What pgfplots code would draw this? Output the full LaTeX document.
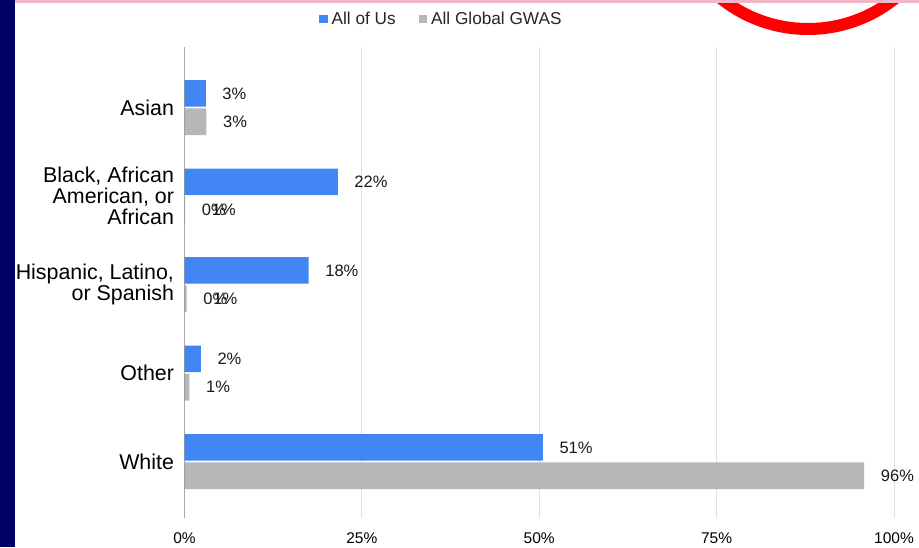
\documentclass[border=0pt]{standalone}
\usepackage{fontspec}
\setmainfont{Liberation Sans}
\usepackage{pgfplots}
\pgfplotsset{compat=1.18}
\definecolor{gblue}{HTML}{4285F4}
\definecolor{ggray}{HTML}{B7B7B7}
\definecolor{navyband}{HTML}{000066}
\definecolor{pinkline}{HTML}{F2B6C6}
\begin{document}
\begin{tikzpicture}[x=1pt,y=1pt]
\useasboundingbox (0,0) rectangle (919,547);
\fill[white] (0,0) rectangle (919,547);
\begin{scope}
\clip (0,0) rectangle (919,547);
\draw[red, line width=12pt] (808,657) circle (139);
\end{scope}
\fill[pinkline] (15,544) rectangle (919,547);
\fill[navyband] (0,0) rectangle (15,547);
\begin{axis}[
  at={(184.5pt,29pt)}, anchor=south west,
  scale only axis, width=709.5pt, height=471pt,
  xmin=0, xmax=100, ymin=-0.684, ymax=4.638, y dir=reverse,
  xtick={0,25,50,75,100},
  xticklabels={0\%,25\%,50\%,75\%,100\%},
  ytick={0,1,2,3,4},
  yticklabels={Asian,{Black, African\\American, or\\African},{Hispanic, Latino,\\or Spanish},Other,White},
  yticklabel style={align=right, font=\fontsize{21.4}{21}\selectfont, xshift=-7pt},
  xticklabel style={font=\fontsize{15.5}{18}\selectfont, yshift=-11pt},
  axis line style={draw=none},
  major tick length=0pt,
  xmajorgrids, major grid style={color=black!12, line width=0.8pt},
  xbar, bar width=0.302,
  point meta=explicit symbolic,
  nodes near coords,
  nodes near coords style={font=\fontsize{16.5}{18}\selectfont, anchor=west, inner sep=0pt, xshift=16.5pt, text=black!90},
  legend style={at={(axis description cs:0.362,1.0594)}, anchor=center, draw=none, fill=none,
    font=\fontsize{17.2}{19}\selectfont, text=black!85,
    /tikz/every even column/.append style={column sep=21pt}},
  legend columns=2,
  legend image code/.code={\fill[#1,draw=none] (0pt,-4.2pt) rectangle (8.5pt,4.2pt);},
]
\addplot[fill=gblue, draw=none, bar shift=-0.16] coordinates {
  (3.0,0) [3\%]
  (21.6,1) [22\%]
  (17.5,2) [18\%]
  (2.3,3) [2\%]
  (50.5,4) [51\%]
};
\addlegendentry{\hspace{2pt}All of Us}
\addplot[fill=ggray, draw=none, bar shift=0.16] coordinates {
  (3.1,0) [3\%]
  (0.1,1) [{\rlap{0\%}\hspace{10pt}1\%}]
  (0.3,2) [{\rlap{0\%}\hspace{10pt}1\%}]
  (0.7,3) [1\%]
  (95.8,4) [96\%]
};
\addlegendentry{\hspace{2pt}All Global GWAS}
\draw[black!45, line width=0.8pt] (axis cs:0,-0.684) -- (axis cs:0,4.638);
\end{axis}
\end{tikzpicture}
\end{document}
